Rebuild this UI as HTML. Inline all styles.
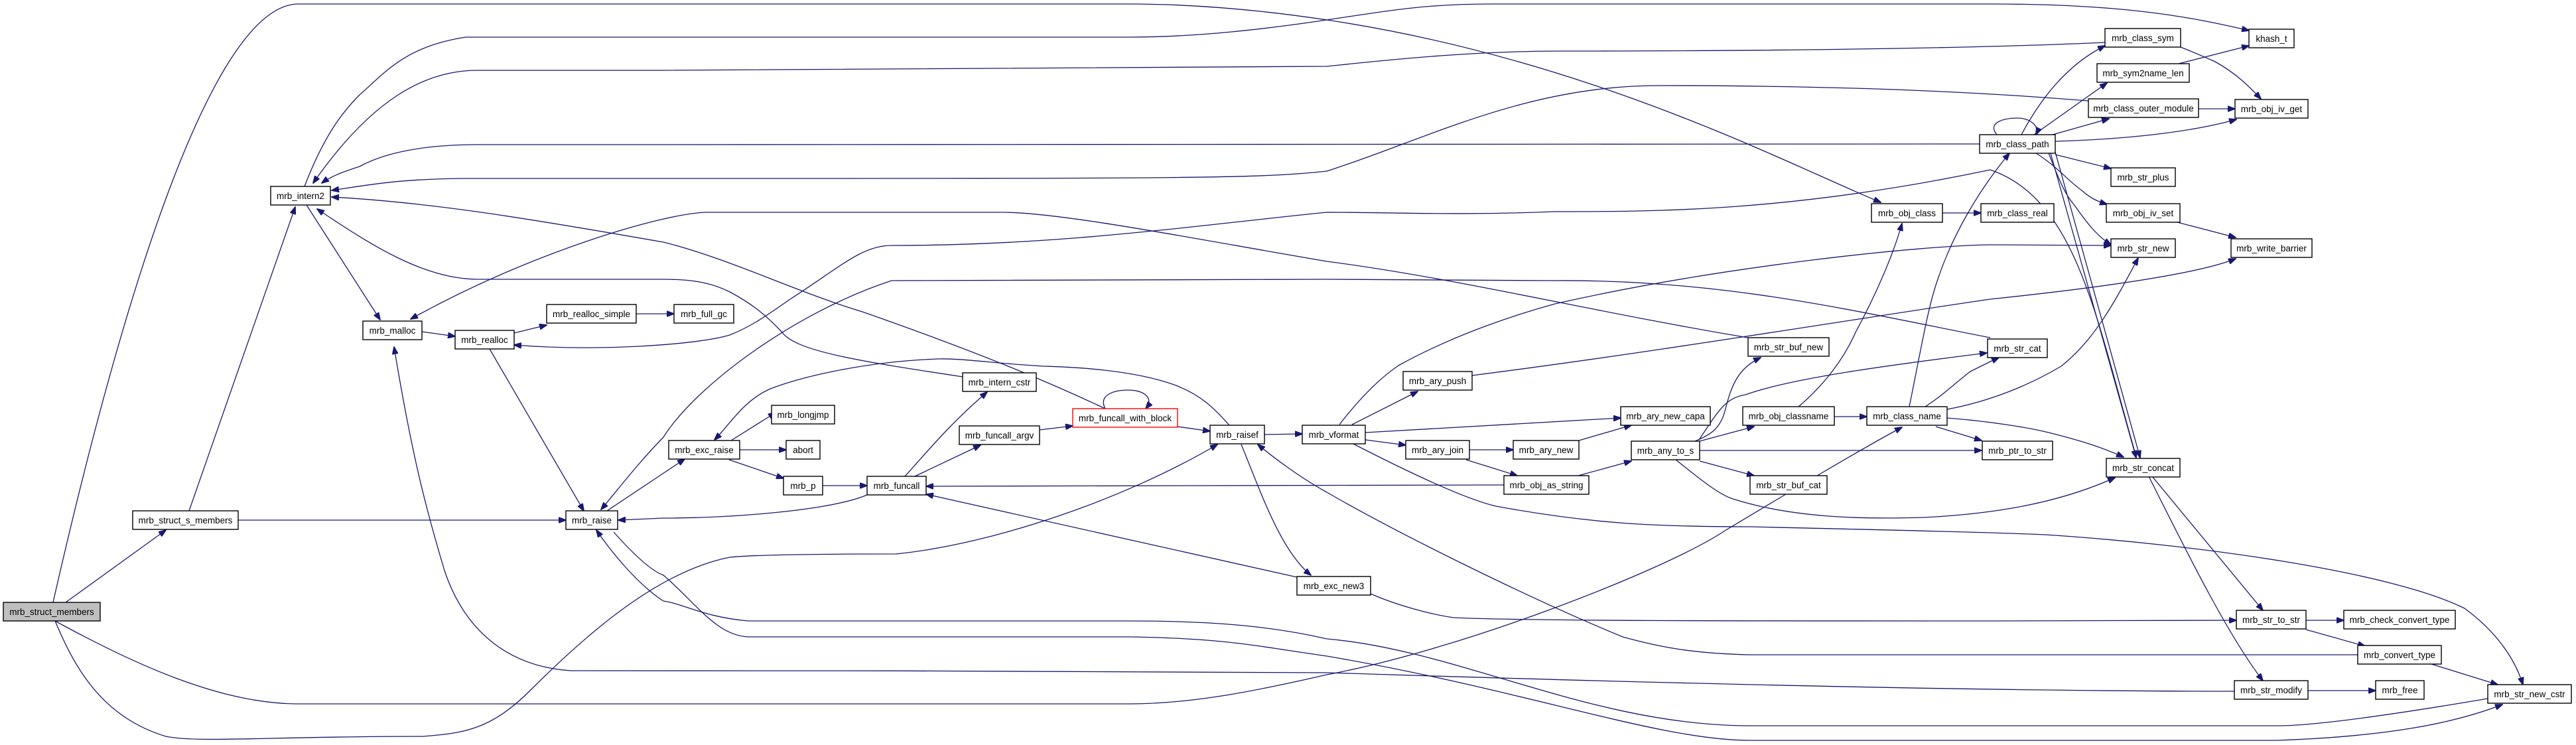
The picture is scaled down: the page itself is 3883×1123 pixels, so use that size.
<!DOCTYPE html>
<html><head><meta charset="utf-8"><style>
html,body{margin:0;padding:0;background:#fff;}
svg{display:block;}
text{font-family:"Liberation Sans",sans-serif;font-size:13.5px;fill:#000;text-anchor:middle;}
.n{fill:#fff;stroke:#000;stroke-width:1.4;}
.e{fill:none;stroke:#191970;stroke-width:1.3;}
</style></head><body>
<svg width="3883" height="1123" viewBox="0 0 3883 1123" xmlns="http://www.w3.org/2000/svg">
<defs><marker id="a" markerWidth="12" markerHeight="9" refX="11" refY="4.5" orient="auto" markerUnits="userSpaceOnUse"><path d="M0,0 L12,4.5 L0,9 z" fill="#191970" stroke="#191970"/></marker></defs>
<g class="e" marker-end="url(#a)">
<path d="M99,908 L250,799"/>
<path d="M285,770 L445,312"/>
<path d="M359,784 L853,784"/>
<path d="M80,908 C150,600 300,6 450,6 L1700,6 C1800,6 1900,15 2000,30 C2400,90 2700,250 2835,305"/>
<path d="M459,281 C490,200 520,165 542,143 C580,110 610,70 702,56 L1700,56 C1800,56 1900,45 2000,30 C2100,15 2150,6 2250,6 L3000,6 C3200,6 3300,25 3390,46"/>
<path d="M3173,64 C3000,72 2700,77 2350,77 C2200,77 2050,95 2000,100 L1000,106 L720,106 C640,106 560,150 472,276"/>
<path d="M2984,217 L1000,218 L720,218 C640,218 580,230 542,251 C520,258 500,265 485,276"/>
<path d="M3148,152 C3000,140 2800,129 2500,129 C2300,129 2150,210 2000,258 C1900,269 1800,269 1000,269 L700,269 C600,270 560,278 500,287"/>
<path d="M1451,568 C1300,545 1200,530 1179,501 C1150,470 1128,455 1100,440 C1070,425 1040,421 1000,421 L720,421 C640,421 560,370 478,315"/>
<path d="M462,309 L573,482"/>
<path d="M2635,509 C2400,470 2200,420 2000,394 C1800,360 1600,320 1510,320 L1064,320 C1000,322 800,380 619,481"/>
<path d="M1666,616 C1600,585 1500,540 1300,470 C1200,440 1100,390 1000,365 C800,330 650,305 500,297"/>
<path d="M3220,688 C3160,480 3130,300 3000,256 C2700,319 2500,319 2344,319 C2200,325 2100,320 2000,320 C1800,340 1600,370 1344,370 C1300,370 1270,400 1191,451 C1150,480 1128,494 1100,505 C1050,520 900,530 775,520"/>
<path d="M636,500 L686,507"/>
<path d="M775,502 L824,490"/>
<path d="M959,473 L1016,473"/>
<path d="M738,526 L880,770"/>
<path d="M3368,1042 C3000,1042 2500,1030 2000,1014 C1800,1011 1200,1011 861,1011 C765,1005 700,950 670,860 C640,760 620,680 594,523"/>
<path d="M83,936 C200,1000 330,1060 446,1061 L1702,1061 C1800,1061 1900,1040 2000,1017 C2200,980 2510,860 2600,800 C2700,740 2800,680 2867,644"/>
<path d="M83,936 C110,1000 150,1080 250,1110 C300,1120 400,1110 638,1110 C700,1105 740,1100 800,1040 C900,940 1000,860 1100,840 C1150,835 1300,835 1351,835 C1500,820 1700,750 1835,670"/>
<path d="M3000,509 C2800,470 2600,421 2344,423 L2000,421 C1700,421 1400,421 1344,423 C1200,470 1050,580 1000,659 C960,700 930,740 906,768"/>
<path d="M915,770 L1032,692"/>
<path d="M1307,746 C1250,770 1100,781 1000,781 L932,784"/>
<path d="M1102,664 L1169,622"/>
<path d="M1115,678 L1185,678"/>
<path d="M1099,693 L1181,721"/>
<path d="M1240,732 L1307,732"/>
<path d="M1364,718 C1390,690 1430,640 1488,591"/>
<path d="M1379,718 L1478,671"/>
<path d="M1567,648 L1617,642"/>
<path d="M1666,616 C1655,595 1680,588 1700,588 C1725,588 1740,600 1727,616"/>
<path d="M1775,643 L1824,650"/>
<path d="M1906,655 L1963,654"/>
<path d="M1853,641 C1830,615 1810,595 1770,580 C1700,555 1600,553 1574,552 C1500,548 1450,540 1415,541 C1300,545 1200,570 1159,587 C1120,605 1100,640 1077,663"/>
<path d="M1871,670 C1900,740 1930,830 1976,867"/>
<path d="M1955,870 L1396,745"/>
<path d="M2267,731 L1396,733"/>
<path d="M3554,987 L2638,987 C2550,985 2500,975 2446,960 C2300,900 2100,800 2000,742 C1960,720 1920,690 1896,670"/>
<path d="M2038,640 L2137,590"/>
<path d="M2058,652 L2443,630"/>
<path d="M2058,663 L2119,671"/>
<path d="M2215,678 L2281,678"/>
<path d="M2210,693 L2287,717"/>
<path d="M2380,664 L2459,641"/>
<path d="M2379,717 L2459,695"/>
<path d="M2555,665 C2580,655 2593,645 2600,620 C2610,580 2620,555 2654,539"/>
<path d="M2561,663 C2590,620 2600,600 2631,595 C2700,570 2850,550 2995,532"/>
<path d="M2562,665 L2644,643"/>
<path d="M2562,679 L2987,679"/>
<path d="M2562,695 L2644,717"/>
<path d="M2526,693 C2560,720 2590,745 2612,752 C2700,780 2800,783 2900,780 C3000,775 3100,760 3188,720"/>
<path d="M2038,668 C2100,700 2200,750 2255,763 C2400,790 2500,794 2638,794 C2800,798 3000,802 3083,806 C3300,820 3600,860 3715,917 C3760,950 3790,990 3803,1032"/>
<path d="M2019,640 C2050,600 2080,570 2108,551 C2200,500 2300,470 2344,458 C2600,400 2900,370 3000,369 L3182,370"/>
<path d="M2219,566 C2500,530 2800,480 3000,451 C3200,430 3320,410 3370,390"/>
<path d="M2711,613 C2750,580 2780,540 2797,501 C2830,440 2855,380 2867,337"/>
<path d="M2765,628 L2814,628"/>
<path d="M2878,613 C2895,530 2905,470 2918,430 C2940,360 2980,290 3029,231"/>
<path d="M2902,613 C2930,595 2950,575 2970,560 C2990,550 3000,545 3013,539"/>
<path d="M2935,617 C3000,605 3060,580 3107,552 C3160,510 3190,450 3223,389"/>
<path d="M2918,643 L2987,664"/>
<path d="M2935,630 C3000,635 3060,645 3088,652 C3140,665 3170,675 3201,689"/>
<path d="M2928,321 L2986,321"/>
<path d="M3047,203 C3070,160 3110,100 3173,69"/>
<path d="M3066,203 L3176,125"/>
<path d="M3010,203 C2995,185 3020,178 3041,178 C3060,178 3075,190 3069,203"/>
<path d="M3094,203 L3179,179"/>
<path d="M3098,213 C3200,210 3300,200 3371,180"/>
<path d="M3098,233 L3182,254"/>
<path d="M3069,231 C3100,250 3120,275 3138,287 C3150,298 3160,303 3176,308"/>
<path d="M3088,231 C3100,260 3110,290 3126,308 C3145,335 3160,355 3182,369"/>
<path d="M3098,229 L3226,690"/>
<path d="M3091,231 L3220,690"/>
<path d="M3284,96 L3390,69"/>
<path d="M3287,71 C3310,80 3339,93 3339,93 C3370,110 3390,130 3408,149"/>
<path d="M3314,164 L3369,164"/>
<path d="M3282,335 L3370,358"/>
<path d="M3244,718 L3411,920"/>
<path d="M3239,718 C3300,840 3360,960 3411,1026"/>
<path d="M3476,935 L3533,935"/>
<path d="M3476,949 L3565,974"/>
<path d="M3665,1001 L3765,1032"/>
<path d="M3479,1041 L3581,1041"/>
<path d="M2066,895 C2100,910 2150,925 2191,931 C2300,936 2600,936 3000,936 L3371,935"/>
<path d="M3750,1053 C3650,1070 3500,1094 3433,1094 L2638,1094 C2400,1094 2200,980 2000,963 C1900,940 1800,936 1702,936 L1128,936 C1060,930 1030,910 1000,906 C960,880 920,830 899,799"/>
<path d="M925,802 C950,830 980,860 1000,867 C1050,910 1080,958 1128,960 L1702,960 C1850,962 1900,975 2000,989 C2300,1040 2500,1116 2638,1116 L3433,1116 C3600,1110 3700,1090 3772,1062"/>
</g>
<g>
<rect class="n" x="5" y="908" width="146" height="28" style="fill:#bfbfbf"/><text x="78" y="927">mrb_struct_members</text>
<rect class="n" x="200" y="770" width="159" height="28"/><text x="279.5" y="789">mrb_struct_s_members</text>
<rect class="n" x="408" y="281" width="90" height="28"/><text x="453" y="300">mrb_intern2</text>
<rect class="n" x="547" y="484" width="89" height="28"/><text x="591.5" y="503">mrb_malloc</text>
<rect class="n" x="686" y="498" width="89" height="28"/><text x="730.5" y="517">mrb_realloc</text>
<rect class="n" x="824" y="459" width="135" height="28"/><text x="891.5" y="478">mrb_realloc_simple</text>
<rect class="n" x="853" y="770" width="78" height="28"/><text x="892" y="789">mrb_raise</text>
<rect class="n" x="1016" y="459" width="90" height="28"/><text x="1061" y="478">mrb_full_gc</text>
<rect class="n" x="1008" y="664" width="107" height="28"/><text x="1061.5" y="683">mrb_exc_raise</text>
<rect class="n" x="1163" y="611" width="95" height="28"/><text x="1210.5" y="630">mrb_longjmp</text>
<rect class="n" x="1185" y="664" width="51" height="28"/><text x="1210.5" y="683">abort</text>
<rect class="n" x="1181" y="718" width="59" height="28"/><text x="1210.5" y="737">mrb_p</text>
<rect class="n" x="1307" y="718" width="89" height="28"/><text x="1351.5" y="737">mrb_funcall</text>
<rect class="n" x="1451" y="562" width="111" height="28"/><text x="1506.5" y="581">mrb_intern_cstr</text>
<rect class="n" x="1446" y="642" width="121" height="28"/><text x="1506.5" y="661">mrb_funcall_argv</text>
<rect class="n" x="1617" y="616" width="158" height="28" style="stroke:#ff0000"/><text x="1696" y="635">mrb_funcall_with_block</text>
<rect class="n" x="1824" y="641" width="82" height="28"/><text x="1865" y="660">mrb_raisef</text>
<rect class="n" x="1955" y="869" width="111" height="28"/><text x="2010.5" y="888">mrb_exc_new3</text>
<rect class="n" x="1963" y="641" width="95" height="28"/><text x="2010.5" y="660">mrb_vformat</text>
<rect class="n" x="2115" y="560" width="104" height="28"/><text x="2167" y="579">mrb_ary_push</text>
<rect class="n" x="2443" y="613" width="135" height="28"/><text x="2510.5" y="632">mrb_ary_new_capa</text>
<rect class="n" x="2119" y="664" width="96" height="28"/><text x="2167" y="683">mrb_ary_join</text>
<rect class="n" x="2281" y="664" width="99" height="28"/><text x="2330.5" y="683">mrb_ary_new</text>
<rect class="n" x="2267" y="717" width="128" height="28"/><text x="2331" y="736">mrb_obj_as_string</text>
<rect class="n" x="2459" y="665" width="103" height="28"/><text x="2510.5" y="684">mrb_any_to_s</text>
<rect class="n" x="2635" y="509" width="122" height="28"/><text x="2696" y="528">mrb_str_buf_new</text>
<rect class="n" x="2627" y="613" width="138" height="28"/><text x="2696" y="632">mrb_obj_classname</text>
<rect class="n" x="2638" y="717" width="116" height="28"/><text x="2696" y="736">mrb_str_buf_cat</text>
<rect class="n" x="2814" y="613" width="121" height="28"/><text x="2874.5" y="632">mrb_class_name</text>
<rect class="n" x="2821" y="307" width="107" height="28"/><text x="2874.5" y="326">mrb_obj_class</text>
<rect class="n" x="3390" y="44" width="68" height="28"/><text x="3424" y="63">khash_t</text>
<rect class="n" x="3173" y="43" width="114" height="28"/><text x="3230" y="62">mrb_class_sym</text>
<rect class="n" x="3161" y="96" width="139" height="28"/><text x="3230.5" y="115">mrb_sym2name_len</text>
<rect class="n" x="3148" y="149" width="166" height="28"/><text x="3231" y="168">mrb_class_outer_module</text>
<rect class="n" x="3369" y="150" width="110" height="28"/><text x="3424" y="169">mrb_obj_iv_get</text>
<rect class="n" x="2984" y="203" width="114" height="28"/><text x="3041" y="222">mrb_class_path</text>
<rect class="n" x="3182" y="253" width="97" height="28"/><text x="3230.5" y="272">mrb_str_plus</text>
<rect class="n" x="2986" y="307" width="110" height="28"/><text x="3041" y="326">mrb_class_real</text>
<rect class="n" x="3175" y="307" width="111" height="28"/><text x="3230.5" y="326">mrb_obj_iv_set</text>
<rect class="n" x="3182" y="360" width="97" height="28"/><text x="3230.5" y="379">mrb_str_new</text>
<rect class="n" x="3363" y="360" width="122" height="28"/><text x="3424" y="379">mrb_write_barrier</text>
<rect class="n" x="2996" y="511" width="90" height="28"/><text x="3041" y="530">mrb_str_cat</text>
<rect class="n" x="2988" y="665" width="106" height="28"/><text x="3041" y="684">mrb_ptr_to_str</text>
<rect class="n" x="3175" y="691" width="111" height="28"/><text x="3230.5" y="710">mrb_str_concat</text>
<rect class="n" x="3371" y="920" width="105" height="28"/><text x="3423.5" y="939">mrb_str_to_str</text>
<rect class="n" x="3533" y="920" width="168" height="28"/><text x="3617" y="939">mrb_check_convert_type</text>
<rect class="n" x="3554" y="973" width="126" height="28"/><text x="3617" y="992">mrb_convert_type</text>
<rect class="n" x="3368" y="1026" width="111" height="28"/><text x="3423.5" y="1045">mrb_str_modify</text>
<rect class="n" x="3581" y="1026" width="73" height="28"/><text x="3617.5" y="1045">mrb_free</text>
<rect class="n" x="3750" y="1032" width="126" height="28"/><text x="3813" y="1051">mrb_str_new_cstr</text>
</g>
</svg>
</body></html>
